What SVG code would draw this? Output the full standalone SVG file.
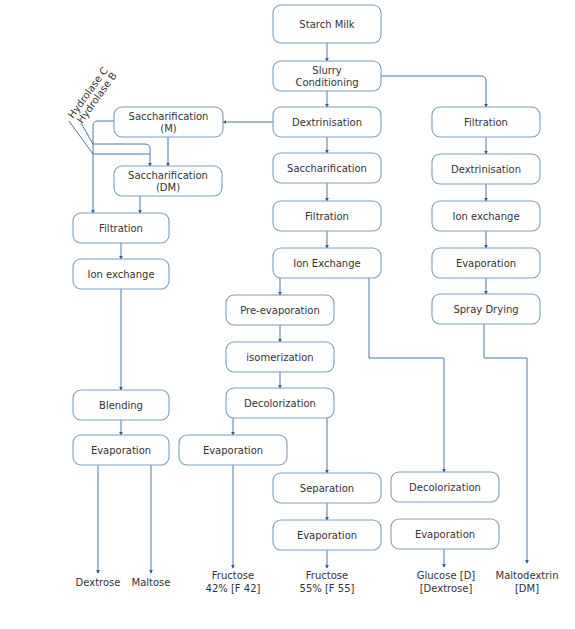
<svg xmlns="http://www.w3.org/2000/svg" width="575" height="629" viewBox="0 0 575 629">
<defs>
<style>
.n rect{fill:#fff;stroke:#7f9dbb;stroke-width:1.1}
text{font-family:"DejaVu Sans",Verdana,sans-serif;font-size:10px;fill:#333}
.n text,.lbl{text-anchor:middle}
.c path{fill:none;stroke:#4d79a6;stroke-width:1}
.c .a{marker-end:url(#ah)}
</style>
<marker id="ah" viewBox="0 0 6 6" refX="5" refY="3" markerWidth="4" markerHeight="4" orient="auto" markerUnits="strokeWidth">
<path d="M0,0 L6,3 L0,6 z" fill="#2e5f8a"/>
</marker>
</defs>
<rect width="575" height="629" fill="#fff"/>
<g class="c">
<path class="a" d="M327,43 V61"/>
<path class="a" d="M327,91 V107"/>
<path class="a" d="M381,76 H481 Q486,76 486,81 V107"/>
<path class="a" d="M273,122 H223"/>
<path class="a" d="M327,137 V153"/>
<path class="a" d="M327,183 V201"/>
<path class="a" d="M327,231 V248"/>
<path class="a" d="M280,278 V295"/>
<path class="a" d="M280,325 V342"/>
<path class="a" d="M280,372 V388"/>
<path class="a" d="M233,418 V435"/>
<path class="a" d="M327,418 V473"/>
<path class="a" d="M327,503 V520"/>
<path class="a" d="M327,550 V568"/>
<path class="a" d="M233,465 V568"/>
<path class="a" d="M369,278 V358 H444 V472"/>
<path class="a" d="M444,549 V567"/>
<path class="a" d="M486,137 V154"/>
<path class="a" d="M486,184 V201"/>
<path class="a" d="M486,231 V248"/>
<path class="a" d="M486,278 V294"/>
<path class="a" d="M484,324 V358 H527 V563"/>
<path class="a" d="M168,137 V166"/>
<path class="a" d="M140,196 V213"/>
<path class="a" d="M114,121 H98 Q93,121 93,126 V213"/>
<path d="M69,121 L93,154 H150"/>
<path class="a" d="M81,123 L93,144 H145 Q150,144 150,149 V166"/>
<path class="a" d="M121,243 V259"/>
<path class="a" d="M121,289 V390"/>
<path class="a" d="M121,420 V435"/>
<path class="a" d="M98,465 V573"/>
<path class="a" d="M151,465 V573"/>
</g>
<g id="starch-milk" class="n"><rect x="273" y="5" width="108" height="38" rx="8"/><text x="327" y="27.5">Starch Milk</text></g>
<g id="slurry" class="n"><rect x="273" y="61" width="108" height="30" rx="8"/><text x="327" y="73.5">Slurry</text><text x="327" y="85.5">Conditioning</text></g>
<g id="dextrinisation" class="n"><rect x="273" y="107" width="108" height="30" rx="8"/><text x="327" y="125.5">Dextrinisation</text></g>
<g id="saccharification" class="n"><rect x="273" y="153" width="108" height="30" rx="8"/><text x="327" y="171.5">Saccharification</text></g>
<g id="filtration-mid" class="n"><rect x="273" y="201" width="108" height="30" rx="8"/><text x="327" y="219.5">Filtration</text></g>
<g id="ion-exchange-mid" class="n"><rect x="273" y="248" width="108" height="30" rx="8"/><text x="327" y="266.5">Ion Exchange</text></g>
<g id="pre-evaporation" class="n"><rect x="226" y="295" width="108" height="30" rx="8"/><text x="280" y="313.5">Pre-evaporation</text></g>
<g id="isomerization" class="n"><rect x="226" y="342" width="108" height="30" rx="8"/><text x="280" y="360.5">isomerization</text></g>
<g id="decolorization-mid" class="n"><rect x="226" y="388" width="108" height="30" rx="8"/><text x="280" y="406.5">Decolorization</text></g>
<g id="evaporation-f42" class="n"><rect x="179" y="435" width="108" height="30" rx="8"/><text x="233" y="453.5">Evaporation</text></g>
<g id="separation" class="n"><rect x="273" y="473" width="108" height="30" rx="8"/><text x="327" y="491.5">Separation</text></g>
<g id="evaporation-f55" class="n"><rect x="273" y="520" width="108" height="30" rx="8"/><text x="327" y="538.5">Evaporation</text></g>
<g id="decolorization-right" class="n"><rect x="391" y="472" width="108" height="30" rx="8"/><text x="445" y="490.5">Decolorization</text></g>
<g id="evaporation-glucose" class="n"><rect x="391" y="519" width="108" height="30" rx="8"/><text x="445" y="537.5">Evaporation</text></g>
<g id="filtration-right" class="n"><rect x="432" y="107" width="108" height="30" rx="8"/><text x="486" y="125.5">Filtration</text></g>
<g id="dextrinisation-right" class="n"><rect x="432" y="154" width="108" height="30" rx="8"/><text x="486" y="172.5">Dextrinisation</text></g>
<g id="ion-exchange-right" class="n"><rect x="432" y="201" width="108" height="30" rx="8"/><text x="486" y="219.5">Ion exchange</text></g>
<g id="evaporation-right" class="n"><rect x="432" y="248" width="108" height="30" rx="8"/><text x="486" y="266.5">Evaporation</text></g>
<g id="spray-drying" class="n"><rect x="432" y="294" width="108" height="30" rx="8"/><text x="486" y="312.5">Spray Drying</text></g>
<g id="sacch-m" class="n"><rect x="114" y="107" width="109" height="30" rx="8"/><text x="168.5" y="119.5">Saccharification</text><text x="168.5" y="131.5">(M)</text></g>
<g id="sacch-dm" class="n"><rect x="114" y="166" width="108" height="30" rx="8"/><text x="168" y="178.5">Saccharification</text><text x="168" y="190.5">(DM)</text></g>
<g id="filtration-left" class="n"><rect x="73" y="213" width="96" height="30" rx="8"/><text x="121" y="231.5">Filtration</text></g>
<g id="ion-exchange-left" class="n"><rect x="73" y="259" width="96" height="30" rx="8"/><text x="121" y="277.5">Ion exchange</text></g>
<g id="blending" class="n"><rect x="73" y="390" width="96" height="30" rx="8"/><text x="121" y="408.5">Blending</text></g>
<g id="evaporation-left" class="n"><rect x="73" y="435" width="96" height="30" rx="8"/><text x="121" y="453.5">Evaporation</text></g>
<g id="hydrolase-labels">
<text x="73" y="119" transform="rotate(-54 73 119)">Hydrolase C</text>
<text x="82" y="124" transform="rotate(-54 82 124)">Hydrolase B</text>
</g>
<g id="outputs">
<text class="lbl" x="98" y="586">Dextrose</text>
<text class="lbl" x="151" y="586">Maltose</text>
<text class="lbl" x="233" y="579">Fructose</text><text class="lbl" x="233" y="592">42% [F 42]</text>
<text class="lbl" x="327" y="579">Fructose</text><text class="lbl" x="327" y="592">55% [F 55]</text>
<text class="lbl" x="446" y="579">Glucose [D]</text><text class="lbl" x="446" y="592">[Dextrose]</text>
<text class="lbl" x="527" y="579">Maltodextrin</text><text class="lbl" x="527" y="592">[DM]</text>
</g>
</svg>
